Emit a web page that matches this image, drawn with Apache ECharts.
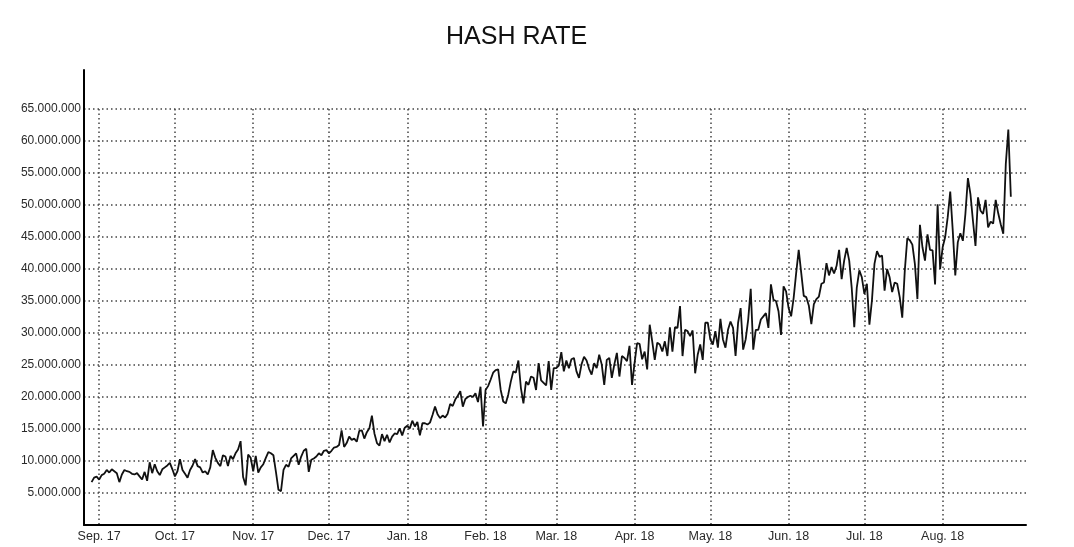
<!DOCTYPE html>
<html>
<head>
<meta charset="utf-8">
<script src="https://cdn.jsdelivr.net/npm/echarts@6/dist/echarts.min.js"></script>
<style>
html,body{margin:0;padding:0;background:#fff;}
#chart{width:1074px;height:547px;}
</style>
</head>
<body>
<div id="chart"></div>
<script>
// Daily hash rate, in millions
// Aug 29 2017 - Nov 7 2017
const hashRateA = [6.7,7.4,7.55,7.1,7.8,8.0,8.6,8.2,8.7,8.4,
 8.1,6.7,7.9,8.6,8.4,8.3,8.0,7.9,8.1,7.6,
 7.1,8.3,6.9,9.8,8.1,9.5,8.4,7.8,8.7,9.0,
 9.3,9.7,8.7,7.6,8.4,10.3,8.6,8.0,7.4,8.6,
 9.3,10.3,9.2,9.0,8.2,8.4,7.9,9.0,11.7,10.5,
 9.7,9.2,10.9,10.7,9.2,10.8,10.3,11.2,11.8,13.1,
 7.5,6.2,11.0,10.5,8.4,10.8,8.2,9.0,9.5,10.5,11.4];
// Nov 8 2017 - Jan 18 2018
const hashRateB = [11.2,10.9,8.3,5.5,5.3,8.6,9.4,9.1,10.4,10.8,
 11.2,9.4,10.7,11.6,11.9,8.3,10.2,10.4,10.7,11.2,
 10.9,11.6,11.7,11.2,11.6,12.1,12.2,12.5,14.8,12.2,
 12.8,13.8,13.3,13.5,13.0,14.7,14.8,13.5,14.5,15.1,
 17.1,14.3,12.8,12.4,14.2,13.1,14.1,12.9,13.8,14.3,
 14.2,15.1,14.0,15.2,15.5,15.1,16.3,15.4,16.1,14.0,
 15.9,15.9,15.7,16.0,17.2,18.5,17.3,16.7,17.1,16.8,
 17.4,18.9];
// Jan 19 2018 - Mar 29 2018
const hashRateC = [18.6,19.6,20.2,20.9,18.5,19.7,20.0,20.2,20.0,20.6,19.2,21.6,
 15.4,
 21.1,21.7,22.7,23.8,24.2,24.3,21.1,19.3,19.0,20.4,22.4,24.0,23.8,
 25.7,
 21.4,19.0,22.4,21.9,23.2,23.0,21.1,25.3,22.6,22.2,21.8,25.6,21.1,24.5,24.5,24.9,
 27.0,
 24.0,25.7,24.5,25.9,26.1,24.0,23.0,25.1,26.3,25.7,24.4,23.5,25.3,24.5,26.6,25.1,
 21.9,
 25.8,26.1,23.0,25.1,26.9,23.2,26.4,26.1,25.6];
// Mar 30 2018 - Jun 7 2018
const hashRateD = [28.0,21.9,
 25.3,28.4,28.3,25.9,27.1,24.3,
 31.3,
 28.7,25.8,28.5,28.2,27.1,28.7,26.4,30.9,27.1,30.9,30.8,
 34.2,
 26.4,30.5,30.3,29.5,30.4,
 23.7,
 26.6,28.2,25.8,31.6,31.6,29.0,28.2,30.3,27.7,32.2,29.0,27.7,30.5,31.8,30.8,26.4,31.6,
 33.9,
 27.4,29.0,32.1,
 36.9,
 27.4,30.5,30.5,32.1,32.6,33.1,30.8,
 37.6,
 35.2,35.0,33.4,
 29.7,
 37.3,36.5,33.9,32.6,35.5,39.4,
 43.0,
 39.4,35.8];
// Jun 8 2018 - Aug 28 2018
const hashRateE = [35.6,34.3,31.4,
 34.5,35.3,35.7,37.7,37.9,40.9,39.0,40.3,39.3,40.5,43.0,38.4,41.3,
 43.3,
 41.3,37.0,
 30.9,
 37.1,39.8,38.7,36.1,37.7,
 31.3,
 35.1,40.8,
 42.8,
 41.9,42.1,36.6,40.0,38.7,36.4,37.9,37.7,35.6,
 32.4,
 39.7,
 44.8,
 44.5,43.8,40.8,
 35.3,
 46.9,
 43.4,41.3,45.4,43.0,42.9,
 37.6,
 50.1,
 40.0,43.4,45.0,48.1,
 52.1,
 46.0,
 39.0,
 44.2,45.6,44.4,48.6,
 54.2,
 51.7,47.5,
 43.6,
 51.2,49.1,48.6,50.8,46.5,47.4,47.1,50.8,48.7,47.0,
 45.5,
 56.4,61.8,51.3];

const axisStart = '2017-08-26';
const axisEnd = '2018-09-03';
const dataStart = '2017-08-29';

const monthTicks = ['2017-09-01','2017-10-01','2017-11-01','2017-12-01','2018-01-01','2018-02-01',
  '2018-03-01','2018-04-01','2018-05-01','2018-06-01','2018-07-01','2018-08-01'];
const monthLabels = ['Sep. 17','Oct. 17','Nov. 17','Dec. 17','Jan. 18','Feb. 18',
  'Mar. 18','Apr. 18','May. 18','Jun. 18','Jul. 18','Aug. 18'];

const yTickValues = [5,10,15,20,25,30,35,40,45,50,55,60,65]; // millions

// build daily categories
function fmt(d){
  const m = d.getUTCMonth()+1, day = d.getUTCDate();
  return d.getUTCFullYear()+'-'+(m<10?'0':'')+m+'-'+(day<10?'0':'')+day;
}
const categories = [];
{
  let t = Date.parse(axisStart+'T00:00:00Z');
  const end = Date.parse(axisEnd+'T00:00:00Z');
  while (t <= end) { categories.push(fmt(new Date(t))); t += 86400000; }
}
const values = [].concat(hashRateA, hashRateB, hashRateC, hashRateD, hashRateE);
const offset = categories.indexOf(dataStart);
const seriesData = categories.map((c, i) => {
  const k = i - offset;
  return (k >= 0 && k < values.length) ? values[k] : null;
});

const isMonth = (idx, val) => monthTicks.indexOf(val) >= 0;
const fontFamily = '"Liberation Sans", Arial, sans-serif';
const dotted = { color: '#444', width: 1.5, type: [1.5, 3] };

function thousands(v){
  return String(Math.round(v*1000000)).replace(/\B(?=(\d{3})+(?!\d))/g, '.');
}

const chart = echarts.init(document.getElementById('chart'), null, {renderer: 'canvas'});
chart.setOption({
  animation: false,
  backgroundColor: '#ffffff',
  title: {
    text: 'HASH RATE',
    left: 441,
    top: 20,
    textStyle: { fontFamily, fontSize: 25, fontWeight: 'normal', color: '#111' }
  },
  grid: [
    { left: 84, right: 48, top: 109, bottom: 22, containLabel: false },
    { left: 84, right: 48, top: 70, height: 39, containLabel: false }
  ],
  xAxis: [
    {
      type: 'category',
      gridIndex: 0,
      data: categories,
      boundaryGap: false,
      axisLine: { show: true, lineStyle: { color: '#000', width: 2 } },
      axisTick: { show: false },
      axisLabel: {
        interval: isMonth,
        formatter: (val) => monthLabels[monthTicks.indexOf(val)] || '',
        color: '#2a2a2a', fontFamily, fontSize: 12.5, margin: 5
      },
      splitLine: { show: true, interval: isMonth, lineStyle: dotted }
    },
    { type: 'value', gridIndex: 1, show: false, min: 0, max: 1 }
  ],
  yAxis: [
    {
      type: 'value',
      gridIndex: 0,
      min: 0,
      max: 65,
      interval: 5,
      axisLine: { show: true, lineStyle: { color: '#000', width: 2 } },
      axisTick: { show: false },
      axisLabel: {
        formatter: (v) => yTickValues.indexOf(v) >= 0 ? thousands(v) : '',
        color: '#2a2a2a', fontFamily, fontSize: 12, margin: 3
      },
      splitLine: { show: true, showMinLine: false, lineStyle: dotted }
    },
    {
      type: 'value',
      gridIndex: 1,
      min: 0,
      max: 1,
      axisLine: { show: true, lineStyle: { color: '#000', width: 2 } },
      axisTick: { show: false },
      axisLabel: { show: false },
      splitLine: { show: false }
    }
  ],
  series: [{
    type: 'line',
    xAxisIndex: 0,
    yAxisIndex: 0,
    data: seriesData,
    showSymbol: false,
    symbol: 'none',
    connectNulls: false,
    lineStyle: { color: '#111', width: 1.8 },
    z: 3
  }]
});
</script>
</body>
</html>
